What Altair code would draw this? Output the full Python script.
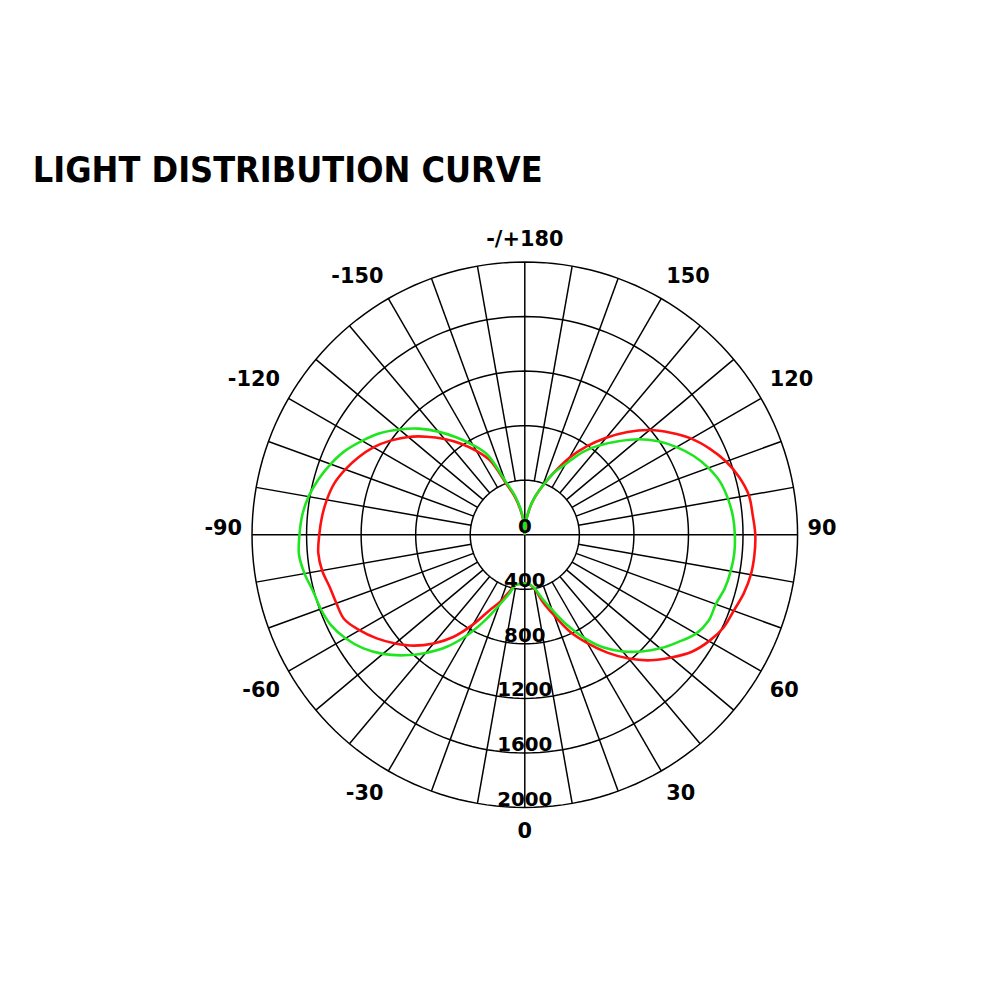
import altair as alt
import pandas as pd

# ---- data ----
angles = list(range(-180, 181, 5))

red_values = [
    0, 95, 190, 295, 400, 600, 710, 815, 916, 1017,          # -180 .. -135
    1116, 1203, 1282, 1345, 1400, 1447, 1474, 1493, 1507,    # -130 .. -90
    1520, 1509, 1481, 1470, 1462, 1400, 1325, 1240, 1150,    # -85 .. -45
    1041, 915, 761, 610, 520, 430, 372, 362,                 # -40 .. -5
    358,                                                     # 0
    365, 400, 510, 630, 785, 918, 1055, 1185, 1302,          # 5 .. 45
    1400, 1495, 1560, 1608, 1630, 1662, 1683, 1690, 1690,    # 50 .. 90
    1677, 1668, 1628, 1570, 1495, 1410, 1305, 1195, 1066,    # 95 .. 135
    928, 790, 650, 500, 380, 285, 190, 95, 0,                # 140 .. 180
]

green_values = [
    0, 100, 205, 310, 420, 645, 759, 870, 987, 1100,         # -180 .. -135
    1201, 1298, 1378, 1455, 1515, 1567, 1610, 1638, 1652,    # -130 .. -90
    1662, 1640, 1606, 1592, 1568, 1518, 1450, 1359, 1250,    # -85 .. -45
    1131, 1005, 855, 695, 550, 450, 372, 362,                # -40 .. -5
    358,                                                     # 0
    365, 395, 480, 585, 728, 875, 1010, 1117, 1210,          # 5 .. 45
    1296, 1372, 1450, 1488, 1490, 1518, 1533, 1542, 1540,    # 50 .. 90
    1532, 1513, 1485, 1433, 1367, 1285, 1195, 1090, 970,     # 95 .. 135
    857, 740, 597, 500, 380, 285, 190, 95, 0,                # 140 .. 180
]

ring_values = [400, 800, 1200, 1600, 2000]
ring_label_values = [0, 400, 800, 1200, 1600, 2000]
ring_label_texts = ["0", "400", "800", "1200", "1600", "2000"]

spoke_angles = list(range(-170, 181, 10))

angle_label_values = [180, 150, 120, 90, 60, 30, 0, -30, -60, -90, -120, -150]
angle_label_texts = ["-/+180", "150", "120", "90", "60", "30", "0",
                     "-30", "-60", "-90", "-120", "-150"]

series_names = ["C0-C180", "C90-C270"]
series_colors = ["#ff1010", "#1ee61e"]

MAX_R = 2000
LABEL_R = 2073

# ---- tables built from the arrays ----
curves = pd.DataFrame(
    [{"series": series_names[0], "angle": a, "v": v} for a, v in zip(angles, red_values)]
    + [{"series": series_names[1], "angle": a, "v": v} for a, v in zip(angles, green_values)]
)
circle_steps = list(range(0, 361, 2))
circles = pd.DataFrame([{"ring": r, "angle": a, "v": r} for r in ring_values for a in circle_steps])
spokes = pd.DataFrame({"angle": spoke_angles})
ring_lbl = pd.DataFrame({"v": ring_label_values, "text": ring_label_texts})
ang_lbl = pd.DataFrame({"angle": angle_label_values, "text": angle_label_texts})

sx = alt.Scale(domain=[-MAX_R, MAX_R], nice=False, zero=False)
sy = alt.Scale(domain=[-MAX_R, MAX_R], nice=False, zero=False)


def X(field):
    return alt.X(field, type="quantitative", scale=sx, axis=None)


def Y(field):
    return alt.Y(field, type="quantitative", scale=sy, axis=None)


polar_x = "datum.v * sin(datum.angle * PI / 180)"
polar_y = "-datum.v * cos(datum.angle * PI / 180)"

grid_circles = alt.Chart(circles).transform_calculate(
    px=polar_x, py=polar_y
).mark_line(color="black", strokeWidth=1.5).encode(
    x=X("px"), y=Y("py"), detail="ring:N", order="angle:Q"
)

grid_spokes = alt.Chart(spokes).transform_calculate(
    r0=f"(datum.angle % 90 == 0) ? 0 : {ring_values[0]}",
    x1="datum.r0 * sin(datum.angle * PI / 180)",
    y1="-datum.r0 * cos(datum.angle * PI / 180)",
    x2=f"{MAX_R} * sin(datum.angle * PI / 180)",
    y2=f"-{MAX_R} * cos(datum.angle * PI / 180)",
).mark_rule(color="black", strokeWidth=1.5).encode(
    x=X("x1"), y=Y("y1"), x2="x2:Q", y2="y2:Q"
)

curve_lines = alt.Chart(curves).transform_calculate(
    px=polar_x, py=polar_y,
).mark_line(strokeWidth=2.6, interpolate="catmull-rom").encode(
    x=X("px"), y=Y("py"),
    color=alt.Color("series:N", scale=alt.Scale(domain=series_names, range=series_colors), legend=None),
    order="angle:Q",
)

ring_text = alt.Chart(ring_lbl).transform_calculate(
    px="0", py="-datum.v"
).mark_text(
    font="DejaVu Sans", fontWeight="bold", fontSize=20, baseline="alphabetic",
    align="center", dy=-2, color="black"
).encode(x=X("px"), y=Y("py"), text="text:N")


def angle_layer(cond, align, baseline, dy):
    return alt.Chart(ang_lbl).transform_filter(cond).transform_calculate(
        px=f"{LABEL_R} * sin(datum.angle * PI / 180)",
        py=f"-{LABEL_R} * cos(datum.angle * PI / 180)",
    ).mark_text(
        font="DejaVu Sans", fontWeight="bold", fontSize=21,
        align=align, baseline=baseline, dy=dy, color="black"
    ).encode(x=X("px"), y=Y("py"), text="text:N")


angle_layers = [
    angle_layer("datum.angle > 0 && datum.angle < 90", "left", "top", 4),
    angle_layer("datum.angle > 90 && datum.angle < 180", "left", "bottom", -3),
    angle_layer("datum.angle == 90", "left", "alphabetic", 0),
    angle_layer("datum.angle < 0 && datum.angle > -90", "right", "top", 4),
    angle_layer("datum.angle < -90 && datum.angle > -180", "right", "bottom", -3),
    angle_layer("datum.angle == -90", "right", "alphabetic", 0),
    angle_layer("datum.angle == 0", "center", "top", 4),
    angle_layer("datum.angle == 180", "center", "bottom", -2),
]

chart = alt.layer(
    grid_circles, grid_spokes, curve_lines, ring_text, *angle_layers
).properties(
    width=550,
    height=550,
    autosize=alt.AutoSizeParams(type="none"),
    padding={"left": 246, "top": 252, "right": 196, "bottom": 190},
    title=alt.TitleParams(
        "LIGHT DISTRIBUTION CURVE",
        anchor="start",
        frame="group",
        font="DejaVu Sans Condensed, Liberation Sans Narrow, sans-serif",
        fontSize=36,
        fontWeight="bold",
        color="black",
        dx=-221,
        offset=40,
    ),
).configure(background="white").configure_view(strokeWidth=0)

chart.save("out.html", embed_options={"renderer": "svg", "actions": False})
